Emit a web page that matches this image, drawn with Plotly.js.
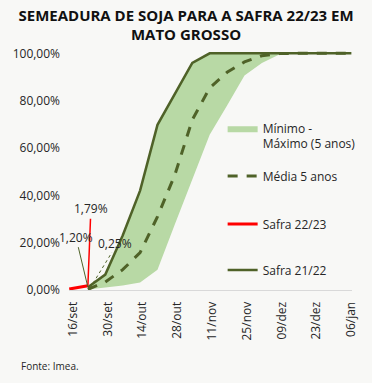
<!DOCTYPE html>
<html>
<head>
<meta charset="utf-8">
<script src="https://cdn.plot.ly/plotly-3.0.1.min.js"></script>
<style>html,body{margin:0;padding:0;background:#f8f8f6;}#chart{width:372px;height:383px;}</style>
</head>
<body>
<div id="chart"></div>
<script>
// ---- Data ----
const dates = ['2022-09-22','2022-09-29','2022-10-06','2022-10-13','2022-10-20','2022-10-27','2022-11-03','2022-11-10','2022-11-17','2022-11-24','2022-12-01','2022-12-08','2022-12-15','2022-12-22','2022-12-29','2023-01-06'];
const minValues  = [0.2, 1.0, 1.9, 3.2, 8.6, 27.8, 47.0, 65.6, 78.0, 90.6, 95.9, 99.5, 100, 100, 100, 100];
const maxValues  = [1.2, 6.5, 23.0, 42.0, 69.8, 82.8, 96.0, 100, 100, 100, 100, 100, 100, 100, 100, 100];
const media5     = [0.25, 3.4, 8.6, 15.8, 31.0, 48.7, 71.9, 85.4, 92.0, 96.4, 99.0, 99.9, 100, 100, 100, 100];
const safra2122  = [1.2, 6.5, 23.0, 42.0, 69.8, 82.8, 96.0, 100, 100, 100, 100, 100, 100, 100, 100, 100];
const datesRed   = ['2022-09-14 12:00','2022-09-22'];
const safra2223  = [0.4, 1.79];

const tickDates  = ['2022-09-16','2022-09-30','2022-10-14','2022-10-28','2022-11-11','2022-11-25','2022-12-09','2022-12-23','2023-01-06'];
const tickLabels = ['16/set','30/set','14/out','28/out','11/nov','25/nov','09/dez','23/dez','06/jan'];
const yTicks     = [0, 20, 40, 60, 80, 100];
const yTickText  = ['0,00%','20,00%','40,00%','60,00%','80,00%','100,00%'];

const names = {band:'Mínimo -<br>Máximo (5 anos)', media:'Média 5 anos', s2223:'Safra 22/23', s2122:'Safra 21/22'};

const dark = '#4f6228';
const bandColor = '#b8d9a5';
const FONT = 'Open Sans, sans-serif';
const textColor = '#262626';

const traces = [
  {x: dates, y: minValues, mode:'lines', line:{width:0, color:bandColor}, showlegend:false, hoverinfo:'skip'},
  {x: dates, y: maxValues, mode:'lines', line:{width:0, color:bandColor}, fill:'tonexty', fillcolor:bandColor, name:names.band, legend:'legend'},
  {x: dates, y: media5, mode:'lines', line:{width:3, color:dark, dash:'10px,9px'}, name:names.media, legend:'legend2'},
  {x: dates, y: safra2122, mode:'lines', line:{width:2.5, color:dark}, name:names.s2122, legend:'legend4'},
  {x: datesRed, y: safra2223, mode:'lines', line:{width:3, color:'#ff0000'}, name:names.s2223, legend:'legend3'}
];

function leg(y) {
  return {x:0.541, xanchor:'left', y:y, yanchor:'top', bgcolor:'rgba(0,0,0,0)', valign:'top', font:{size:12, color:textColor}};
}

const lastRed = safra2223.length - 1;
const layout = {
  width: 372, height: 383,
  paper_bgcolor:'#f8f8f6', plot_bgcolor:'#f8f8f6',
  margin:{l:69, r:19, t:51, b:92.5},
  font:{family:FONT, color:textColor, size:12},
  title:{text:'<b>SEMEADURA DE SOJA PARA A SAFRA 22/23 EM<br>MATO GROSSO</b>', x:0.5, xanchor:'center', yref:'container', y:0.946, yanchor:'middle', font:{size:15, family:FONT, color:'#111'}},
  xaxis:{type:'date', range:['2022-09-14 09:36','2023-01-06 06:00'], tickvals:tickDates, ticktext:tickLabels, tickangle:-90,
         showgrid:false, zeroline:false, showline:true, linecolor:'#d9d9d9', linewidth:1, ticks:'', ticklabelstandoff:6,
         tickfont:{size:12, color:textColor}},
  yaxis:{range:[0,101], tickvals:yTicks, ticktext:yTickText, showgrid:false, zeroline:false, showline:false, ticks:'',
         ticklabelstandoff:8, tickfont:{size:12, color:textColor}},
  showlegend:true,
  legend: leg(0.737),
  legend2: leg(0.5365),
  legend3: leg(0.336),
  legend4: leg(0.144),
  annotations:[
    {x:datesRed[lastRed], y:safra2223[lastRed], text:'1,79%', showarrow:true, arrowhead:0, arrowwidth:1.5, arrowcolor:'#ff0000', ax:3, ay:-77, font:{size:12, color:textColor}},
    {x:dates[0], y:safra2122[0], text:'1,20%', showarrow:true, arrowhead:0, arrowwidth:1, arrowcolor:dark, ax:-12, ay:-50, font:{size:12, color:textColor}},
    {x:dates[0], y:media5[0], text:'0,25%', showarrow:false, xshift:27, yshift:46, font:{size:12, color:textColor}},
    {xref:'paper', yref:'paper', x:-0.176, y:-0.318, xanchor:'left', yanchor:'middle', text:'Fonte: Imea.', showarrow:false, font:{size:10, color:textColor}}
  ],
  shapes:[
    {type:'line', xref:'x', yref:'y', xsizemode:'pixel', ysizemode:'pixel', xanchor:dates[0], yanchor:media5[0], x0:2, y0:1, x1:24, y1:37, line:{color:dark, width:1, dash:'dot'}}
  ]
};

Plotly.newPlot('chart', traces, layout, {displayModeBar:false, staticPlot:true});
</script>
</body>
</html>
